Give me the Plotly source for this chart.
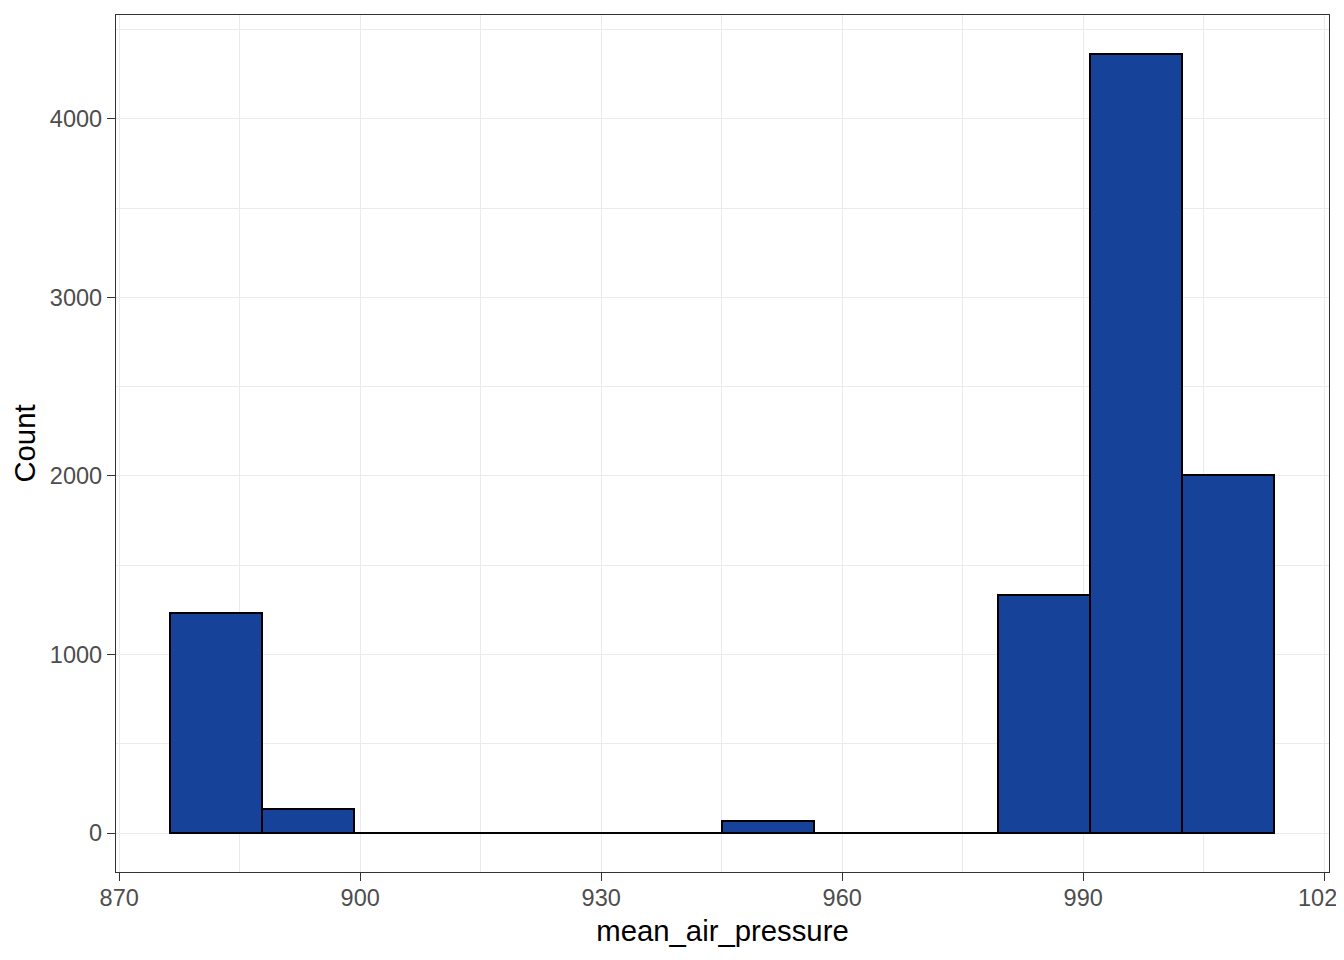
import plotly.graph_objects as go

# Histogram data (12 bins)
bin_start = 876.35
bin_width = 11.455
counts = [1231, 136, 0, 0, 0, 0, 67, 0, 0, 1335, 4363, 2007]
x_ticks = [870, 900, 930, 960, 990, 1020]
y_ticks = [0, 1000, 2000, 3000, 4000]
x_title = "mean_air_pressure"
y_title = "Count"

fill_color = "#164399"
font_family = "Liberation Sans, Arial, sans-serif"

lefts = [bin_start + i * bin_width for i in range(len(counts))]
centers = [l + bin_width / 2 for l in lefts]

# zero-height bins are drawn as outlines along y=0 (as ggplot does)
zx, zy = [], []
for l, c in zip(lefts, counts):
    if c == 0:
        zx += [l, l + bin_width, None]
        zy += [0, 0, None]

fig = go.Figure()
fig.add_trace(go.Bar(
    x=centers, y=counts, width=[bin_width] * len(counts),
    marker=dict(color=fill_color, line=dict(color="black", width=2)),
    hoverinfo="x+y", showlegend=False,
))
fig.add_trace(go.Scatter(
    x=zx, y=zy, mode="lines", line=dict(color="black", width=2),
    hoverinfo="skip", showlegend=False,
))

ymax = max(counts)
axis_common = dict(
    showline=True, mirror=True, linecolor="#333333", linewidth=1.3,
    ticks="outside", ticklen=8, tickwidth=1.3, tickcolor="#333333",
    tickfont=dict(family=font_family, size=23.5, color="#4D4D4D"),
    showgrid=True, gridcolor="#EBEBEB", gridwidth=1.3,
    zeroline=False, automargin=False, ticklabeloverflow="allow",
)

fig.update_layout(
    width=1336, height=952,
    margin=dict(l=108, r=15, t=7, b=88),
    paper_bgcolor="white", plot_bgcolor="white",
    bargap=0,
    xaxis=dict(
        range=[869.6, 1020.6], tickmode="array", tickvals=x_ticks,
        ticktext=[str(v) for v in x_ticks], ticklabelstandoff=-3,
        minor=dict(tickmode="array",
                   tickvals=[(a + b) / 2 for a, b in zip(x_ticks[:-1], x_ticks[1:])],
                   showgrid=True, gridcolor="#EBEBEB", gridwidth=0.7, ticks=""),
        title=dict(text=x_title, font=dict(family=font_family, size=29.3, color="black"),
                   standoff=10),
        **axis_common,
    ),
    yaxis=dict(
        range=[-0.05 * ymax, 1.05 * ymax], tickmode="array", tickvals=y_ticks,
        ticktext=[str(v) for v in y_ticks],
        minor=dict(tickmode="array",
                   tickvals=[(a + b) / 2 for a, b in zip(y_ticks, y_ticks[1:] + [y_ticks[-1] + 1000])],
                   showgrid=True, gridcolor="#EBEBEB", gridwidth=0.7, ticks=""),
        title=dict(text=y_title, font=dict(family=font_family, size=29.3, color="black"),
                   standoff=5),
        **axis_common,
    ),
)

fig.write_html("out.html")
